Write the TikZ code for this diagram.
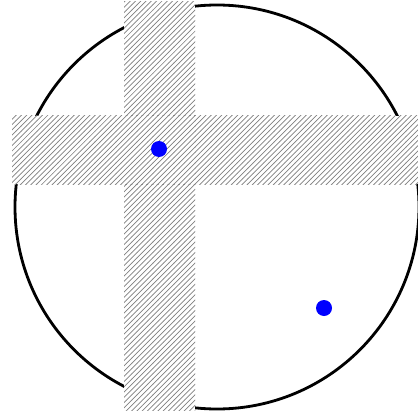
\documentclass[tikz,border=0pt]{standalone}
\usetikzlibrary{patterns}

\begin{document}
\begin{tikzpicture}[x=0.02cm,y=0.02cm]
  \tikzset{band/.style={preaction={fill=white},pattern=north east lines,pattern color=gray}}
  \useasboundingbox (0,0) rectangle (418,416);
  \draw[line width=1.6pt] (217,209) circle (202);
  % the two strips
  \fill[band] (124,6) rectangle (195,414);
  \fill[band] (12,232) rectangle (418,300);
  \fill[band] (124,232) rectangle (195,300);
  \foreach \x/\y in {159/267,324/108}
  {
    \fill[blue] (\x,\y) circle (8);
  }
\end{tikzpicture}
\end{document}
